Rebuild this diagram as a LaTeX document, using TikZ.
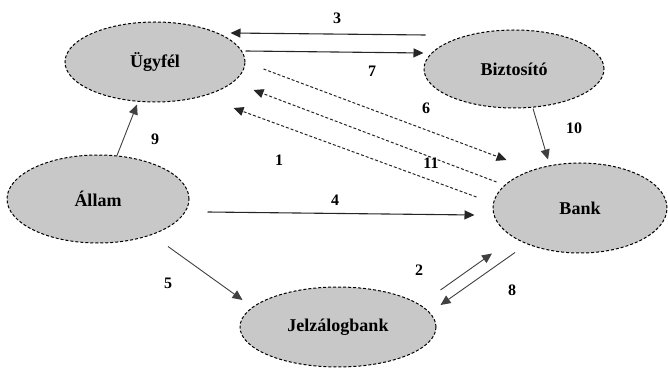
\documentclass[tikz,border=0pt]{standalone}
\usepackage{fontspec}
\setmainfont{Liberation Serif}
\usepackage{tikz}
\usetikzlibrary{shapes,arrows.meta}

\tikzset{
  actor/.style={ellipse, draw=black, densely dashed, line width=1pt, fill={rgb,255:red,200;green,200;blue,200}, inner sep=0pt, font=\fontsize{18}{20}\selectfont\bfseries},
  flow/.style={draw=black!85, line width=1.1pt, -{Triangle[length=10pt,width=9pt]}},
  thin flow/.style={draw=black!75, line width=0.9pt, -{Triangle[length=10pt,width=9pt]}},
  dflow/.style={draw=black!85, line width=1pt, dash pattern=on 3pt off 2pt, -{Triangle[length=10pt,width=9pt]}},
  num/.style={font=\fontsize{16}{18}\selectfont\bfseries}
}

\begin{document}
\begin{tikzpicture}[x=1pt,y=-1pt]
\useasboundingbox (0,0) rectangle (668,371);

\node [actor, minimum width=180pt, minimum height=80pt] (ugyfel) at (155,62) {Ügyfél};
\node [actor, minimum width=180pt, minimum height=78pt] (biztosito) at (514,69) {Biztosító};
\node [actor, minimum width=182pt, minimum height=88pt] (allam) at (98,199) {Állam};
\node [actor, minimum width=174pt, minimum height=90pt] (bank) at (580,208) {Bank};
\node [actor, minimum width=196pt, minimum height=80pt] (jelzalog) at (338,327) {Jelzálogbank};

% solid arrows
\draw [flow] ([shift={(2pt,34pt)}]biztosito.west) -- ([shift={(-15pt,29pt)}]ugyfel.east);
\draw [flow] ([shift={(0pt,11pt)}]ugyfel.east) -- ([shift={(0pt,16pt)}]biztosito.west);
\draw [flow] ([shift={(18pt,-13pt)}]allam.east) -- ([shift={(-18pt,-7pt)}]bank.west);
\draw [thin flow] ([shift={(19pt,-1pt)}]allam.north) -- ([shift={(-18pt,-2pt)}]ugyfel.south);
\draw [thin flow] ([shift={(19pt,0pt)}]biztosito.south) -- ([shift={(-32pt,3pt)}]bank.north);
\draw [thin flow] ([shift={(70pt,-3pt)}]allam.south) -- ([shift={(3pt,27pt)}]jelzalog.west);
\draw [thin flow] ([shift={(4pt,37pt)}]jelzalog.east) -- ([shift={(-88pt,0pt)}]bank.south);
\draw [thin flow] ([shift={(-65pt,1pt)}]bank.south) -- ([shift={(4pt,22pt)}]jelzalog.east);

% dashed arrows
\draw [dflow] ([shift={(18pt,-7pt)}]ugyfel.east) -- ([shift={(14pt,48pt)}]bank.west);
\draw [dflow] ([shift={(4pt,26pt)}]bank.west) -- ([shift={(8pt,-28pt)}]ugyfel.east);
\draw [dflow] ([shift={(-16pt,11pt)}]bank.west) -- ([shift={(-12pt,-46pt)}]ugyfel.east);

% numbers
\foreach \p/\t in {{(337,18)}/3, {(372,71)}/7, {(426,108)}/6, {(431,163)}/11, {(279,160)}/1, {(155,139)}/9, {(574,128)}/10, {(335,200)}/4, {(168,283)}/5, {(419,270)}/2, {(512,290)}/8}
  \node [num] (n\t) at \p {\t};
\end{tikzpicture}
\end{document}
